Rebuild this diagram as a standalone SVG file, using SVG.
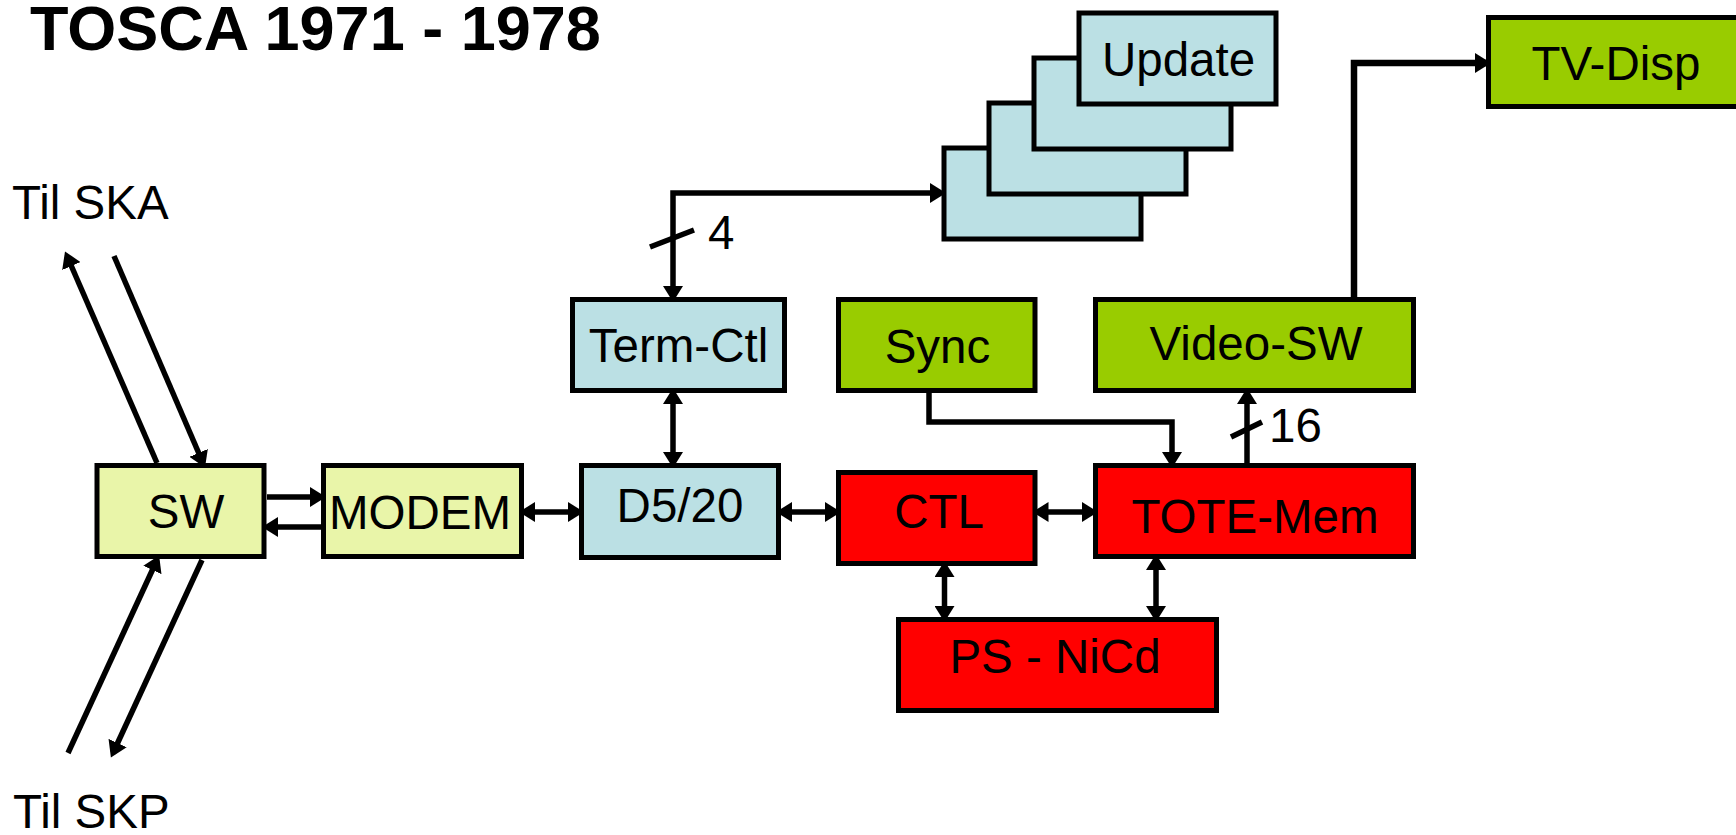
<svg xmlns="http://www.w3.org/2000/svg" width="1736" height="835" viewBox="0 0 1736 835">
<style>
.b{stroke:#000;stroke-width:5}
.y{fill:#E9F5A9}.c{fill:#BBE0E4}.g{fill:#99CC00}.r{fill:#FF0000}
text{font-family:"Liberation Sans",Arial,sans-serif;font-size:47.5px;fill:#000}
.m{text-anchor:middle}
.k{fill:none;stroke:#000;stroke-width:5.5}
</style>
<defs>
<marker id="a" markerUnits="userSpaceOnUse" markerWidth="18" markerHeight="20" refX="11" refY="10" orient="auto-start-reverse" viewBox="0 0 18 20">
<path d="M0,0 L16,10 L0,20 z" fill="#000"/>
</marker>
</defs>
<rect width="1736" height="835" fill="#fff"/>
<text x="30" y="50" style="font-weight:bold;font-size:63px">TOSCA 1971 - 1978</text>
<text x="12" y="219">Til SKA</text>
<text x="13" y="828">Til SKP</text>

<g id="connectors">
<line class="k" x1="157" y1="463" x2="67" y2="256" marker-end="url(#a)"/>
<line class="k" x1="114" y1="256" x2="203" y2="463" marker-end="url(#a)"/>
<line class="k" x1="68" y1="753" x2="157" y2="560" marker-end="url(#a)"/>
<line class="k" x1="202" y1="560" x2="113" y2="753" marker-end="url(#a)"/>
<line class="k" x1="267" y1="497" x2="321" y2="497" marker-end="url(#a)"/>
<line class="k" x1="321" y1="527" x2="267" y2="527" marker-end="url(#a)"/>
<line class="k" x1="524" y1="512" x2="579" y2="512" marker-start="url(#a)" marker-end="url(#a)"/>
<line class="k" x1="781" y1="512" x2="836" y2="512" marker-start="url(#a)" marker-end="url(#a)"/>
<line class="k" x1="1037.5" y1="512" x2="1093" y2="512" marker-start="url(#a)" marker-end="url(#a)"/>
<line class="k" x1="944.5" y1="566" x2="944.5" y2="617" marker-start="url(#a)" marker-end="url(#a)"/>
<line class="k" x1="1156" y1="559" x2="1156" y2="617" marker-start="url(#a)" marker-end="url(#a)"/>
<line class="k" x1="673" y1="393" x2="673" y2="463" marker-start="url(#a)" marker-end="url(#a)"/>
<path class="k" d="M673,297 V193 H941" marker-start="url(#a)" marker-end="url(#a)"/>
<line class="k" x1="650" y1="247" x2="694" y2="230"/>
<path class="k" d="M929,393 V422 H1172 V463" marker-end="url(#a)"/>
<line class="k" x1="1247" y1="463" x2="1247" y2="393" marker-end="url(#a)"/>
<line class="k" x1="1231" y1="437" x2="1262" y2="422"/>
<path class="k" style="stroke-width:6.5" d="M1354,297 V63 H1486" marker-end="url(#a)"/>
</g>
<text x="708" y="249">4</text>
<text x="1269" y="442">16</text>

<g id="sw"><rect class="b y" x="97" y="465.5" width="167" height="91"/><text class="m" x="186" y="528">SW</text></g>
<g id="modem"><rect class="b y" x="323.5" y="465.5" width="198" height="91"/><text class="m" x="420" y="529">MODEM</text></g>
<g id="d520"><rect class="b c" x="581.5" y="465.5" width="197" height="92"/><text class="m" x="680" y="522">D5/20</text></g>
<g id="termctl"><rect class="b c" x="572.5" y="299.5" width="212" height="91"/><text class="m" x="678.5" y="362">Term-Ctl</text></g>
<g id="sync"><rect class="b g" x="838.5" y="299.5" width="196.5" height="91"/><text class="m" x="937.5" y="363">Sync</text></g>
<g id="videosw"><rect class="b g" x="1095.5" y="299.5" width="318" height="91"/><text class="m" x="1256" y="360">Video-SW</text></g>
<g id="ctl"><rect class="b r" x="838.5" y="472.5" width="196.5" height="91"/><text class="m" x="939" y="528">CTL</text></g>
<g id="totemem"><rect class="b r" x="1095.5" y="465.5" width="318" height="91"/><text class="m" x="1255" y="533">TOTE-Mem</text></g>
<g id="psnicd"><rect class="b r" x="898.5" y="619.5" width="318" height="91"/><text class="m" x="1055" y="673">PS - NiCd</text></g>
<g id="update">
<rect class="b c" x="944" y="148" width="197" height="91"/>
<rect class="b c" x="989" y="103" width="197" height="91"/>
<rect class="b c" x="1034" y="58" width="197" height="91"/>
<rect class="b c" x="1079" y="13" width="197" height="91"/>
<text class="m" x="1178.5" y="76">Update</text>
</g>
<g id="tvdisp"><rect class="b g" x="1488.5" y="17.5" width="260" height="89"/><text class="m" x="1616" y="80">TV-Disp</text></g>
</svg>
